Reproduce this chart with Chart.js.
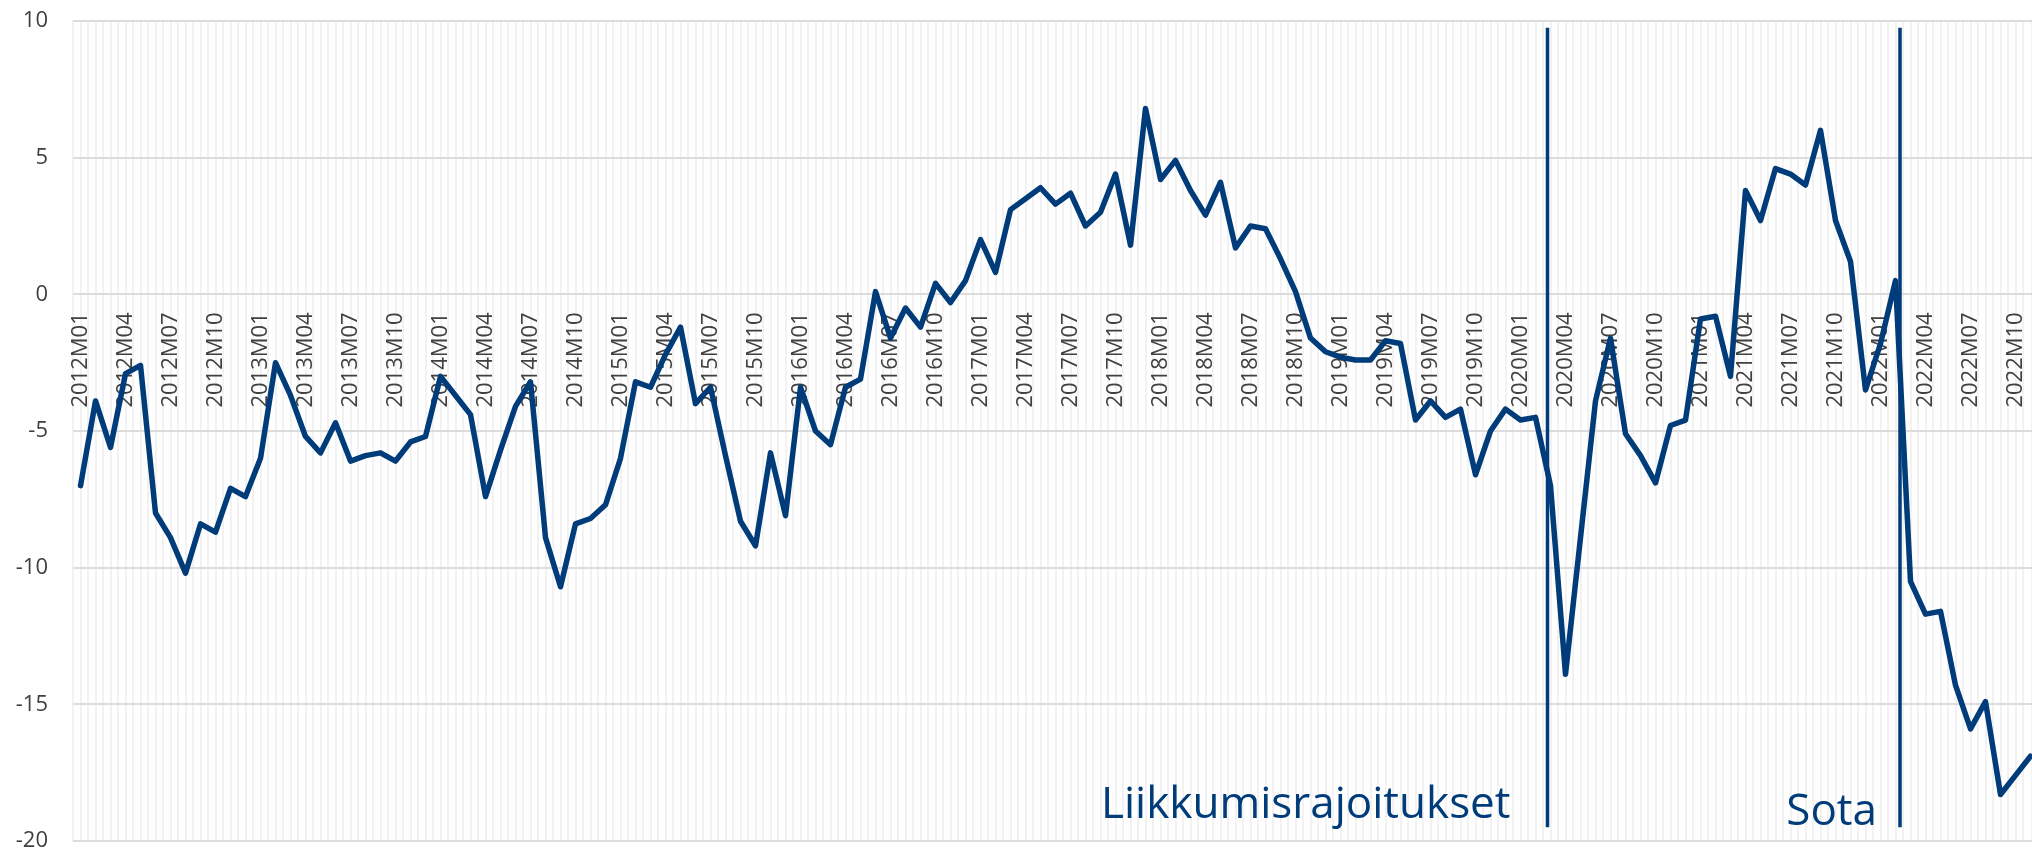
<!DOCTYPE html>
<html lang="fi">
<head>
<meta charset="UTF-8">
<title>Kuluttajien luottamus</title>
<style>
  html, body { margin: 0; padding: 0; background: #fff; }
  .wrap { position: relative; width: 2032px; height: 851px; }
</style>
</head>
<body>
<div class="wrap"><canvas id="chart"></canvas></div>

<script src="https://cdn.jsdelivr.net/npm/chart.js"></script>
<script>
// kuukausisarja 2012M01 - 2022M11
const firstYear = 2012;
const values = [
  -7.0, -3.9, -5.6, -2.9, -2.6, -8.0, -8.9, -10.2, -8.4, -8.7, -7.1, -7.4,   // 2012
  -6.0, -2.5, -3.7, -5.2, -5.8, -4.7, -6.1, -5.9, -5.8, -6.1, -5.4, -5.2,    // 2013
  -3.0, -3.7, -4.4, -7.4, -5.7, -4.1, -3.2, -8.9, -10.7, -8.4, -8.2, -7.7,   // 2014
  -6.0, -3.2, -3.4, -2.2, -1.2, -4.0, -3.4, -5.9, -8.3, -9.2, -5.8, -8.1,    // 2015
  -3.4, -5.0, -5.5, -3.4, -3.1, 0.1, -1.6, -0.5, -1.2, 0.4, -0.3, 0.5,       // 2016
  2.0, 0.8, 3.1, 3.5, 3.9, 3.3, 3.7, 2.5, 3.0, 4.4, 1.8, 6.8,                // 2017
  4.2, 4.9, 3.8, 2.9, 4.1, 1.7, 2.5, 2.4, 1.3, 0.1, -1.6, -2.1,              // 2018
  -2.3, -2.4, -2.4, -1.7, -1.8, -4.6, -3.9, -4.5, -4.2, -6.6, -5.0, -4.2,    // 2019
  -4.6, -4.5, -7.0, -13.9, -8.9, -3.9, -1.6, -5.1, -5.9, -6.9, -4.8, -4.6,   // 2020
  -0.9, -0.8, -3.0, 3.8, 2.7, 4.6, 4.4, 4.0, 6.0, 2.7, 1.2, -3.5,            // 2021
  -1.8, 0.5, -10.5, -11.7, -11.6, -14.3, -15.9, -14.9, -18.3, -17.6, -16.9   // 2022
];

// kuukausien nimet 2012M01, 2012M02, ...
const months = [];
for (let i = 0; i < values.length; i++) {
  const y = firstYear + Math.floor(i / 12);
  const m = (i % 12) + 1;
  months.push(y + 'M' + (m < 10 ? '0' + m : m));
}

const yTicks = [-20, -15, -10, -5, 0, 5, 10];

// tapahtumat (kuukausi-indeksinä)
const eventAt = [97.8, 121.3];
const eventText = ['Liikkumisrajoitukset', 'Sota'];

const navy = '#003b7a';
const xMax = 130.1;

const eventPlugin = {
  id: 'events',
  afterDatasetsDraw(chart) {
    const ctx = chart.ctx;
    const x = chart.scales.x;
    const y = chart.scales.y;
    const textGap = [37, 23];
    const textBase = [-19.15, -19.4];
    ctx.save();
    eventAt.forEach((at, i) => {
      const px = x.getPixelForValue(at);
      ctx.strokeStyle = navy;
      ctx.lineWidth = 3.5;
      ctx.beginPath();
      ctx.moveTo(px, y.getPixelForValue(9.75));
      ctx.lineTo(px, y.getPixelForValue(-19.5));
      ctx.stroke();

      ctx.font = '44px "Open Sans"';
      ctx.fillStyle = navy;
      ctx.textAlign = 'right';
      ctx.textBaseline = 'alphabetic';
      ctx.fillText(eventText[i], px - textGap[i], y.getPixelForValue(textBase[i]));
    });
    ctx.restore();
  }
};

// akseli nollatasolla ei saa viedä tilaa kuva-alueelta
function noSpace(s) {
  s.height = 0;
  s.paddingLeft = 0;
  s.paddingRight = 0;
  s.paddingTop = 0;
  s.paddingBottom = 0;
}

const tickFont = { family: 'Open Sans', size: 22 };

new Chart(document.getElementById('chart'), {
  type: 'line',
  data: {
    datasets: [{
      data: values.map((v, i) => ({ x: i, y: v })),
      borderColor: navy,
      borderWidth: 5.5,
      borderJoinStyle: 'round',
      borderCapStyle: 'round',
      pointRadius: 0,
      tension: 0,
      xAxisID: 'x',
      yAxisID: 'y'
    }]
  },
  options: {
    responsive: true,
    maintainAspectRatio: false,
    animation: false,
    layout: { padding: { top: 21, bottom: 10, left: 0, right: 0 } },
    plugins: {
      legend: { display: false },
      tooltip: { enabled: false }
    },
    scales: {
      grid2: {
        type: 'linear',
        axis: 'x',
        position: 'bottom',
        min: -0.5,
        max: xMax,
        afterFit: noSpace,
        ticks: { display: false, stepSize: 0.5 },
        grid: { color: '#f2f2f2', lineWidth: 2, drawTicks: false },
        border: { display: false }
      },
      x: {
        type: 'linear',
        position: { y: 0 },
        min: -0.5,
        max: xMax,
        afterFit: noSpace,
        ticks: {
          stepSize: 3,
          includeBounds: false,
          autoSkip: false,
          minRotation: 90,
          maxRotation: 90,
          padding: 18,
          color: '#404040',
          font: tickFont,
          callback: v => (Number.isInteger(v) && v % 3 === 0 && months[v]) ? months[v] : ''
        },
        grid: { display: false, drawTicks: false },
        border: { display: false }
      },
      y: {
        min: -20,
        max: 10,
        afterBuildTicks: s => { s.ticks = yTicks.map(v => ({ value: v })); },
        afterFit: s => { s.width = 73; s.paddingTop = 0; s.paddingBottom = 0; },
        ticks: {
          padding: 25,
          color: '#404040',
          font: tickFont
        },
        grid: { color: '#dcdcdc', lineWidth: 2, drawTicks: false },
        border: { display: false }
      }
    }
  },
  plugins: [eventPlugin]
});
</script>
</body>
</html>
